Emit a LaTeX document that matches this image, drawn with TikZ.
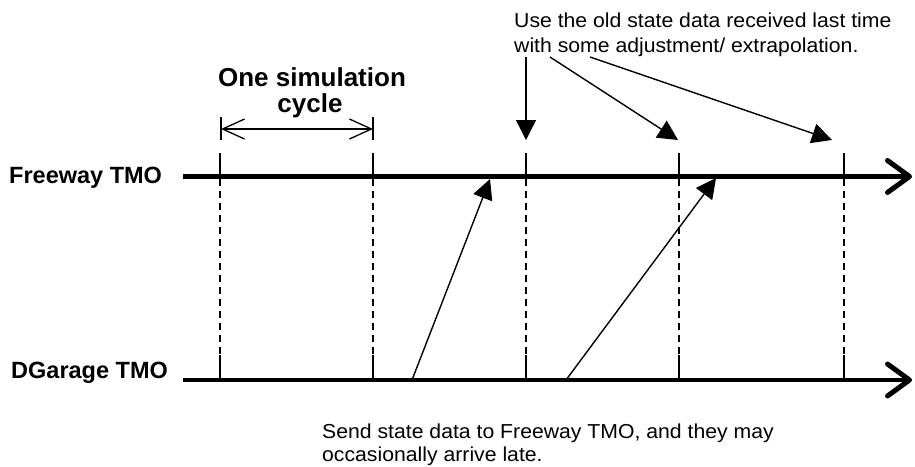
\documentclass[tikz,border=0pt]{standalone}
\usepackage{fontspec}
\setmainfont{Liberation Sans}
\newfontfamily\notefont[FakeStretch=1.05]{Liberation Sans}
\usetikzlibrary{arrows.meta}
\begin{document}
\begin{tikzpicture}[x=1pt,y=-1pt,
  axis/.style={line width=4.5pt, -{Straight Barb[length=22pt,width=32pt,line width=5pt,round]}},
  tickmark/.style={line width=2.6pt},
  dashline/.style={line width=1.2pt, dash pattern=on 7pt off 5pt},
  dimline/.style={line width=1.3pt, {Straight Barb[length=22pt,width=20pt,line width=1.3pt]}-{Straight Barb[length=22pt,width=20pt,line width=1.3pt]}},
  dimtick/.style={line width=1.5pt},
  msg/.style={line width=1.4pt, -{Triangle[length=20pt,width=20pt]}},
  lbl/.style={inner sep=0pt, anchor=base west, font=\fontsize{23.5}{28}\selectfont\bfseries},
  note/.style={inner sep=0pt, anchor=base west, font=\notefont\fontsize{20.2}{24}\selectfont},
  title/.style={inner sep=0pt, anchor=base, font=\fontsize{26}{30}\selectfont\bfseries}
]
\fill[white] (0,0) rectangle (915,466);
\useasboundingbox (0,0) rectangle (915,466);

% axes
\coordinate (fs) at (183,176.5);
\coordinate (fe) at (912,176.5);
\coordinate (gs) at (183,380);
\coordinate (ge) at (912,380);

% ticks and dashed guides
\foreach \x [count=\i] in {220,373,526,679,844}{
  \coordinate (ft\i) at (\x,153);
  \coordinate (fb\i) at (\x,176.5);
  \coordinate (dt\i) at (\x,179);
  \coordinate (gt\i) at (\x,355);
  \coordinate (gb\i) at (\x,380);
  \draw[tickmark] (ft\i) -- (fb\i);
  \draw[dashline] (dt\i) -- (gt\i);
  \draw[tickmark] (gt\i) -- (gb\i);
}

\draw[axis] (fs) -- (fe);
\draw[axis] (gs) -- (ge);

% labels
\node[lbl] (fl) at (9,183) {Freeway TMO};
\node[lbl] (gl) at (11,378) {DGarage TMO};

% one simulation cycle
\node[title] (t1) at (312,86) {One simulation};
\node[title] (t2) at (310,112) {cycle};
\coordinate (d1t) at (221,117);
\coordinate (d1b) at (221,140);
\coordinate (d2t) at (373,117);
\coordinate (d2b) at (373,140);
\coordinate (d1) at (221,129);
\coordinate (d2) at (373,129);
\draw[dimtick] (d1t) -- (d1b);
\draw[dimtick] (d2t) -- (d2b);
\draw[dimline] (d1) -- (d2);

% top note
\node[note] (n1) at (514,27) {Use the old state data received last time};
\node[note] (n2) at (514,52) {with some adjustment/ extrapolation.};
\coordinate (a1s) at (526,57);
\coordinate (a1e) at (526,140);
\coordinate (a2s) at (550,57);
\coordinate (a2e) at (678,140);
\coordinate (a3s) at (590,57);
\coordinate (a3e) at (832,140);
\draw[msg] (a1s) -- (a1e);
\draw[msg] (a2s) -- (a2e);
\draw[msg] (a3s) -- (a3e);

% messages
\coordinate (m1s) at (412,380);
\coordinate (m1e) at (490,179);
\coordinate (m2s) at (566,380);
\coordinate (m2e) at (716,178);
\draw[msg] (m1s) -- (m1e);
\draw[msg] (m2s) -- (m2e);

% bottom note
\node[note] (b1) at (322,438) {Send state data to Freeway TMO, and they may};
\node[note] (b2) at (322,461) {occasionally arrive late.};
\end{tikzpicture}
\end{document}
